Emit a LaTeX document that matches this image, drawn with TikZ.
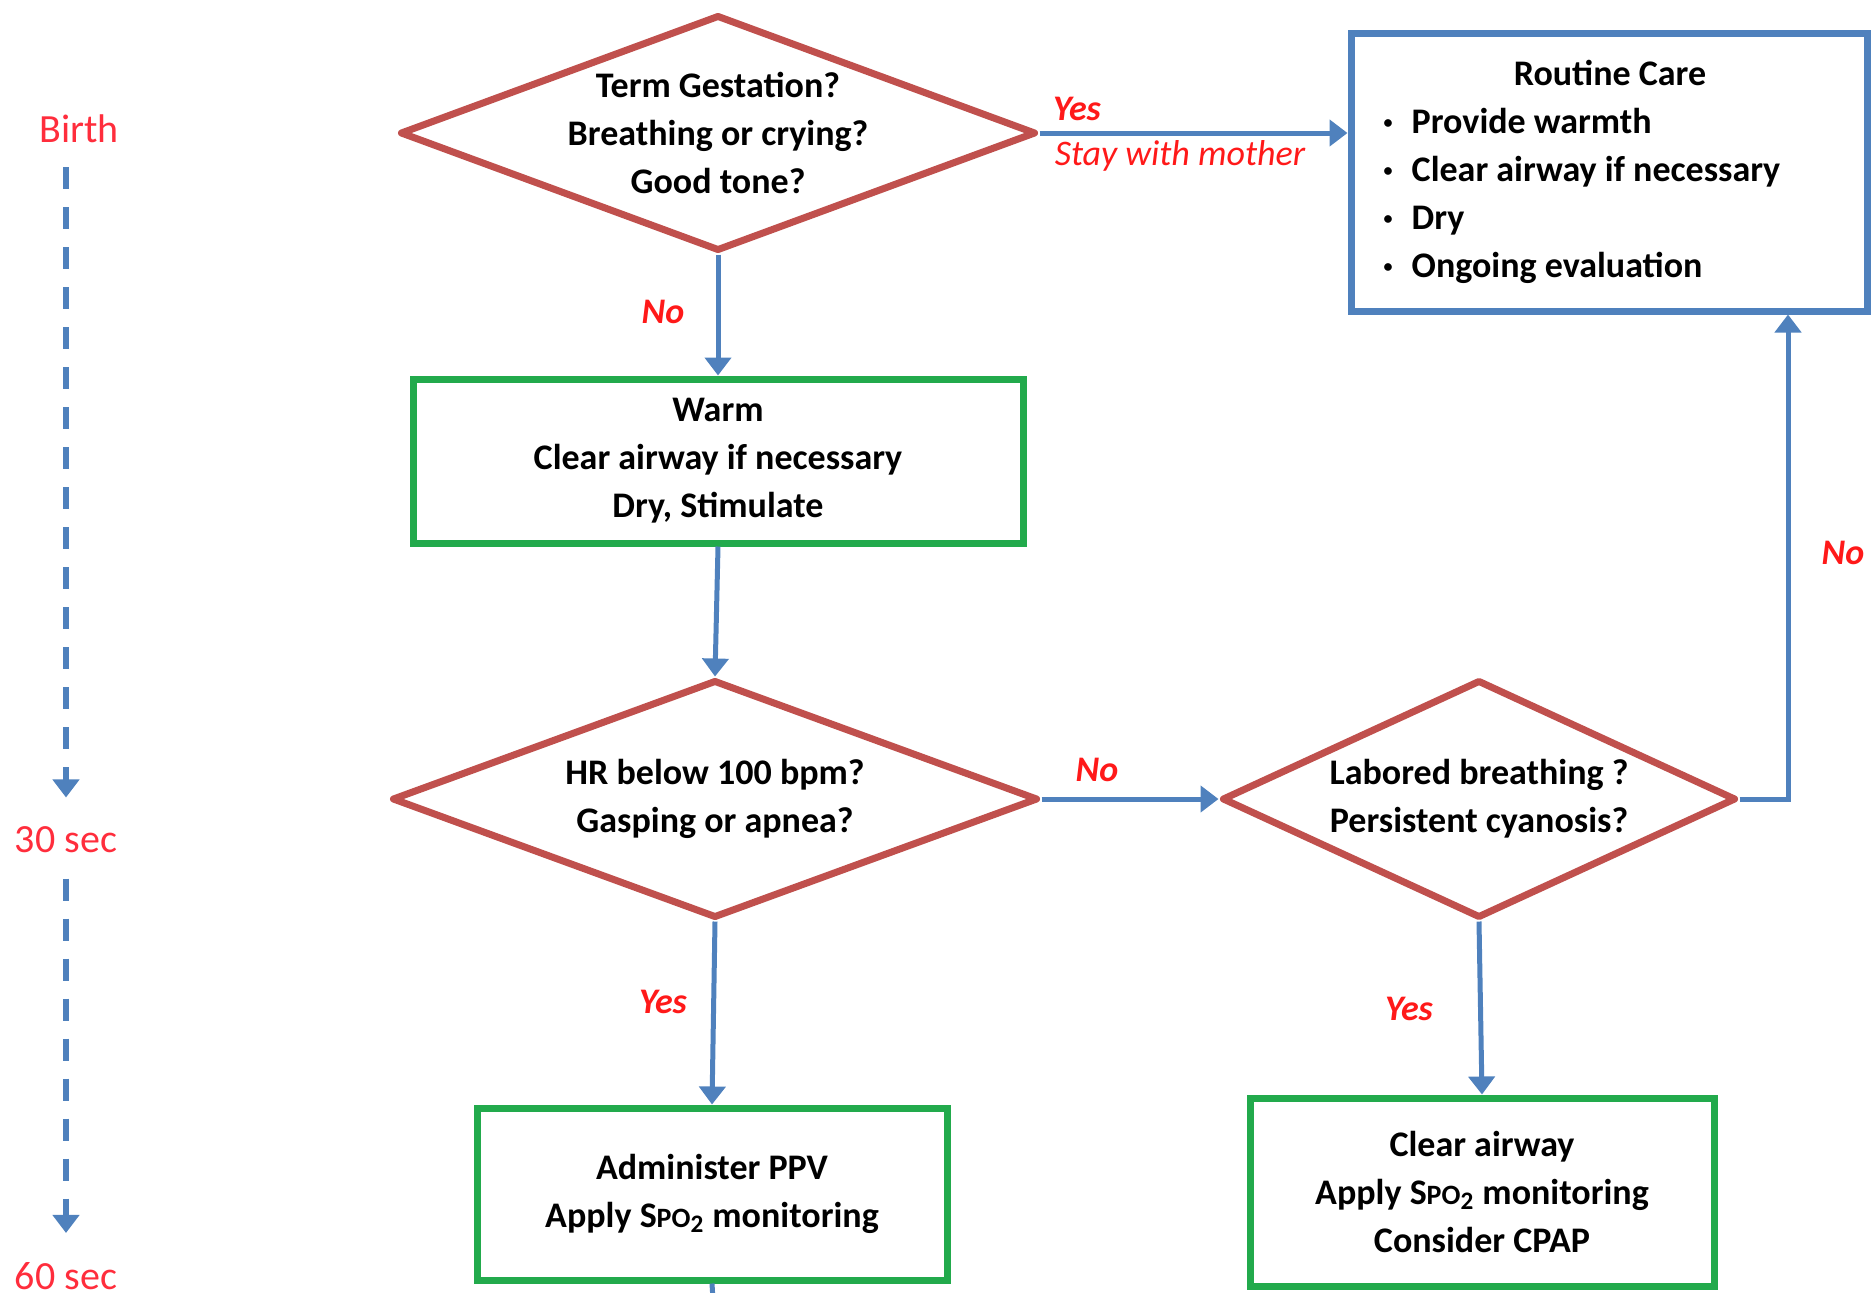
\documentclass[tikz,border=0pt]{standalone}
\usepackage{fontspec}
\setmainfont{Carlito}
\usepackage{tikz}
\usetikzlibrary{arrows.meta,shapes.geometric}
\definecolor{flowblue}{RGB}{79,129,189}
\definecolor{askred}{RGB}{192,80,77}
\definecolor{actgreen}{RGB}{34,170,76}
\definecolor{notered}{RGB}{255,25,25}
\definecolor{timered}{RGB}{255,45,60}
\newcommand{\spotwo}{S{\fontsize{14}{14}\selectfont PO}\textsubscript{2}}
\newcommand{\carebullet}{\makebox[14pt][l]{\raisebox{2.4pt}{\fontsize{9}{9}\selectfont\textbullet}}}

\begin{document}
\begin{tikzpicture}[x=0.5pt,y=-0.5pt,
                ask/.style={diamond,draw=askred,line width=3.5pt,line join=round,inner sep=0pt,align=center,font=\fontsize{18}{24}\selectfont\bfseries},
                act/.style={rectangle,draw=actgreen,line width=3.5pt,align=center,font=\fontsize{18}{24}\selectfont\bfseries},
                care/.style={rectangle,draw=flowblue,line width=3.5pt,font=\fontsize{18}{24}\selectfont\bfseries},
                flow/.style={draw=flowblue,line width=2.5pt,-{Triangle[width=13pt,length=9pt]}},
                answer/.style={text=notered,font=\fontsize{18}{22}\selectfont\bfseries\itshape},
                tick/.style={text=timered,inner sep=0pt,font=\fontsize{20}{24}\selectfont},
                timeline/.style={draw=flowblue,line width=3pt,dash pattern=on 11pt off 9pt,-{Triangle[width=13pt,length=9pt]}}]
                \useasboundingbox (0,0) rectangle (1873,1292);
                \node[tick] (birth) at (79,129) {Birth};
                \node[tick] (half) at (66,840) {30 sec};
                \node[tick] (full) at (66,1276) {60 sec};
                \draw[timeline,shorten <=12pt,shorten >=14.5pt] (birth.south -| half.north) -- (half.north);
                \draw[timeline,shorten <=12.5pt,shorten >=14.5pt] (half.south) -- (full.north);
                \node[ask,aspect=2.66,minimum width=318pt,minimum height=118pt] (term) at (718,133) {Term Gestation?\\Breathing or crying?\\Good tone?};
                \node[care,minimum width=258pt,minimum height=139pt] (routine) at (1609,172)
                {\begin{tabular}{@{}l@{}}\multicolumn{1}{c}{\hspace{28pt}Routine Care}\\
                \carebullet Provide warmth\\
                \carebullet Clear airway if necessary\\
                \carebullet Dry\\
                \carebullet Ongoing evaluation\end{tabular}\hspace{27pt}\null};
                \node[act,minimum width=305pt,minimum height=82pt] (warm) at (718,461) {Warm\\Clear airway if necessary\\Dry, Stimulate};
                \node[ask,aspect=2.7,minimum width=323pt,minimum height=119pt] (hr) at (715,799) {HR below 100 bpm?\\Gasping or apnea?};
                \node[ask,aspect=2.1,minimum width=257pt,minimum height=119pt] (labored) at (1479,799) {Labored breathing ?\\Persistent cyanosis?};
                \node[act,minimum width=235pt,minimum height=86pt] (ppv) at (712,1194) {Administer PPV\\Apply \spotwo{} monitoring};
                \node[act,minimum width=232pt,minimum height=94pt] (cpap) at (1482,1192) {Clear airway\\Apply \spotwo{} monitoring\\Consider CPAP};
                \node[answer] (yesroutine) at (1077,109) {Yes};
                \node[text=notered,font=\fontsize{18}{22}\selectfont\itshape] (staymother) at (1180,156) {Stay with mother};
                \node[answer] (nowarm) at (663,312) {No};
                \node[answer] (nolabored) at (1097,770) {No};
                \node[answer] (noroutine) at (1843,553) {No};
                \node[answer] (yesppv) at (663,1002) {Yes};
                \node[answer] (yescpap) at (1409,1009) {Yes};
                \draw[flow] (term.east) -- (term.east -| routine.west);
                \draw[flow] (term.south) -- (warm.north);
                \draw[flow] (warm.south) -- (hr.north);
                \draw[flow] (hr.east) -- (labored.west);
                \coordinate (noturn) at (1788,799);
                \draw[flow] (labored.east) -- (noturn) -- (noturn |- routine.south);
                \draw[flow] (hr.south) -- (ppv.north);
                \draw[flow] (labored.south) -- (cpap.north);
                \coordinate (ppvnext) at (713,1300);
                \draw[draw=flowblue,line width=2.5pt] (ppv.south) -- (ppvnext);
            \end{tikzpicture}
\end{document}
